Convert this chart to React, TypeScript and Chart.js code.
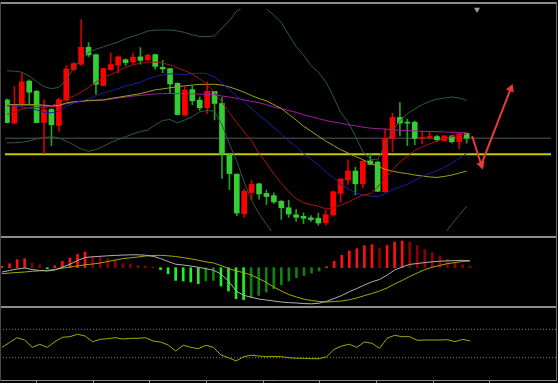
import React, { useEffect, useRef } from "react";
import { Chart, registerables } from "chart.js";

Chart.register(...registerables);

// ---------------- DATA ----------------
// main panel (price units), one entry per candle
const open = [137,112.7,132.7,156.7,146,113.3,127,110.3,136.7,168.7,174.3,192,184.3,152,168.7,173.3,179,176.7,182,178.7,184.3,171,169.7,154.3,121,147.7,136.7,128.7,146,133.3,80.3,59.3,18,40.3,49.3,39.3,37,31,24.3,17,15.3,13.7,13.3,8.7,16.7,39.3,53.5,62.7,49.3,73.3,72,41,96.7,118.7,113.7,113.7,96.7,97.7,98.7,94.3,99.3,93.3,102];
const high = [138,151,165,158,147,137,128,139,173,176,221,197,185,170,186,183,180,186,191.7,185,185,178.3,170,155,151,151.7,140,156,146,139.3,80.3,60,44,52.7,50,42.7,40,32,32,22.7,19,16,18.7,22,42,55,74.3,66.7,73.5,81,73,106.7,123.3,134.3,117,115,104.3,103.3,100,100,100,102,102.5];
const low = [113,112,130,133,113,81,89,104,136,168,173,182,143,152,168,165,173,174,174.3,178,169,165.3,144.3,121,121,132,126,122.7,116,55,43.3,16,14.3,32.7,33.3,27.7,28.7,12,14.3,10,7.7,10,6,6,16,30,48.7,37.7,45,69,41,40.5,82.7,99.3,89.3,90,91,96,93.3,94,92,86,91.7];
const close = [113.3,132,156,145,113.3,126.7,111,137.3,169.3,175,192,184,153.3,169.7,174,182,176,181.7,178.3,183.7,172,169.3,153.7,121.7,147.3,136,128.7,146,133.3,80.3,60,18.7,41.5,48.7,38.7,36,30.3,24.3,17.7,14.3,13.3,12,8.3,17,41,54.3,62.7,49.3,72.7,69.7,41.5,96.7,118.7,112.7,112.7,96.7,97.7,98.7,95.3,99.3,93.3,101.7,97];

const maFast = [122,124,127.5,129,129,128.5,131,134,138,141,145,150,155.5,160,163.5,167,171,173.5,175.5,176.5,176.5,175.5,173.5,170.5,167.5,164,159,153,145,134.5,124,113,103.5,94,81,71,59.5,50,41,34,29.5,27.5,26,23,24,27,30,34,37.5,39,46,55,64,72,78,84,88,91,94,96.5,98.5,100,101.5];
const maMid = [131,130.5,129.5,128.5,126.5,124,123.5,125,130.5,133.5,136,138,141.5,144.3,146.5,148.7,151.5,153.5,155.5,159,161.5,163,164.3,164,163.5,164.5,165,164.5,161,155,147.5,141,135,128,121,115,108,101.5,94,88,81,75,69,62,56,49,44,40,37.5,36.5,36,39,43,46,49,53,57,60,63,66.5,71,76,81];
const maSlow = [132,132,132,132,132,131.5,131,131,134,135,135.7,136.5,136.7,137,138.5,139.7,141,142.3,143.5,145.5,147.5,148.5,149.7,150.7,151.7,152.5,153.2,153.3,153.3,152.5,150.5,148,145,141.5,138.5,136,132,128,122,116,109.5,104.5,99,94,89.5,85,81.5,78,74.5,71,67.5,64.5,62.5,61,60,58.5,57.5,56.5,56,57,58.5,60.5,62.7];
const maLong = [132,132,131.7,131.5,131,130.5,130,131,133,134.3,135.3,136,136.5,136.7,137.8,139,140,141,141.7,142.5,143.2,143.5,143.7,143.6,143.5,143.3,143,142.8,142.3,141,140,138.7,137,135.5,134,132,129.5,128,126,124,121.5,119.5,117.5,115.5,114,112.7,111,110,108.5,107.5,107,106.5,105.8,105.2,105,104.6,104.2,104,103.8,103.5,103.2,103,102.7];
const bollUpper = [167.5,167,166,162,156,151,148.7,150,158,170,180,186.5,190,192.5,195,197.5,201,203.5,206,209,210,210,210,209,207.5,205,203.3,203,204,212,220,230,234,235,234,232,225.5,218,205,193,184,173,166,156,141,124,114,99,83,75,74.3,90,105,115,122.5,127.5,132,135.5,137.7,139,140,139,136.7];
const bollLower = [92,92.3,92.7,94,96.3,97.7,98.7,97.3,94,90,85.7,83.3,85,88.5,92.5,95.5,98.5,101.5,104,105.5,111,115.5,116.5,113,116,119.5,124.5,126,125,111,91,73,51,32,18,7,-4,null,null,null,null,null,null,null,null,null,null,null,null,null,null,null,null,null,null,null,null,null,null,-3,7,16.5,26];

const levelGray = 97;
const levelYellow = 80.3;

const arrowIdx = [62.74, 63.97, 67.95];
const arrowPrice = [99.3, 69.3, 148.7];
const shiftMarkerIdx = 63.4;

// MACD panel
const macdLine = [-4.3,-2.8,-1.3,-0.3,-1.8,-2.8,-3.3,-2.3,0.7,3.4,7.2,10.2,10.9,11.4,11.9,12.3,12.6,12.9,12.9,12.5,11.4,9.2,6.2,3.5,2.7,1.7,0.4,-1,-2.5,-6.3,-13.3,-23.3,-27.6,-29.5,-31.3,-32.3,-33.3,-34.3,-34.9,-35.3,-35.9,-36.1,-35.5,-33.6,-30.8,-27.8,-24,-20.8,-17.3,-14.1,-11.8,-7.5,-2.3,0.7,3.3,4.2,5.1,5.9,6.5,6.9,7.1,7.4,6.7];
const signalLine = [-6,-5.3,-4.8,-4.3,-3.6,-3.1,-2.6,-1.8,-0.5,0.7,1.7,2.9,3.7,4.7,6.2,7.7,9,9.9,10.7,11.7,12.2,12.4,11.9,11.2,10.1,8.9,7.4,5.9,4.7,2.2,-0.8,-3.3,-4.8,-7.3,-10.8,-14.8,-19.3,-23.3,-26.8,-29.3,-31.5,-32.8,-33.8,-34.3,-33.8,-33.3,-32,-30.3,-27.9,-25.8,-23.3,-20.3,-16.3,-12.8,-8.8,-5.3,-2,0.5,2.3,4.1,5.2,6.2,7];
const macdHist = [1.5,4,8,9,4.5,3,-1,2,6.3,9.7,13.3,15.7,11.3,10.7,9,7.3,4,3.7,2.3,1.7,0.7,-2,-6,-12.7,-13.3,-14.3,-16,-13.3,-12.7,-18.3,-23.3,-31,-32,-30,-27.7,-24.3,-21,-17,-13.3,-10,-7.7,-5.3,-3.3,1,6.3,12.3,16.7,19,22,23,19.7,22.3,25.7,26.7,25.7,22.3,18.3,15,11.7,8.3,5,3,1.7];

// RSI panel
const rsi = [44.6,51.4,58.2,54.9,44.6,48.9,44.6,52.5,58.7,59.6,63,60.6,52.5,55.9,56.8,58.2,56.3,57.3,57.3,58.2,53.5,52.1,47.9,39.4,47.5,44.6,42.7,47.5,44.6,33.8,30,25.4,31.4,33.4,32.4,31.4,31.7,31.4,30,29.2,29.2,28.6,28.6,31.4,41.8,46.5,48.9,44.6,52.1,50.3,43.2,57.3,61.5,59.6,59.6,54.5,54.9,54.9,54.9,55.4,52.5,55.9,53.5];
const rsiLevels = [70, 30];

// time-axis tick positions (in candle index units)
const timeTicks = [4.6, 12.1, 19.6, 27.1, 34.6, 42.1, 49.6, 57.1, 64.6];

// ---------------- LAYOUT / STYLE ----------------
const W = 556;
const X_MIN = -0.265;
const X_MAX = 73.38;

const pts = (arr: (number | null)[]) => arr.map((v, i) => ({ x: i, y: v }));

const lineDs = (arr: (number | null)[], color: string, order: number, width = 1) => ({
  type: "line" as const,
  data: pts(arr),
  borderColor: color,
  borderWidth: width,
  pointRadius: 0,
  tension: 0,
  fill: false,
  spanGaps: false,
  order,
});

const hLine = (v: number, color: string, width: number, order: number, dash: number[] = []) => ({
  type: "line" as const,
  data: [
    { x: X_MIN, y: v },
    { x: X_MAX, y: v },
  ],
  borderColor: color,
  borderWidth: width,
  borderDash: dash,
  pointRadius: 0,
  tension: 0,
  fill: false,
  order,
});

const baseOptions = (yMin: number, yMax: number): any => ({
  animation: false,
  responsive: false,
  devicePixelRatio: 1,
  events: [],
  layout: { padding: 0 },
  plugins: { legend: { display: false }, tooltip: { enabled: false } },
  scales: {
    x: { type: "linear", min: X_MIN, max: X_MAX, display: false, offset: false },
    y: { type: "linear", min: yMin, max: yMax, display: false },
  },
});

function mainConfig(): any {
  const idx = open.map((_, i) => i);
  const up = idx.map((i) => close[i] >= open[i]);
  return {
    type: "bar",
    data: {
      datasets: [
        hLine(levelGray, "#575757", 1, 40),
        hLine(levelYellow, "#c8c800", 2, 39),
        {
          type: "bar",
          data: idx.map((i) => ({ x: i, y: [low[i], high[i]] })),
          backgroundColor: up.map((u) => (u ? "#d00000" : "#21a321")),
          barThickness: 1,
          maxBarThickness: 1,
          grouped: false,
          order: 30,
        },
        {
          type: "bar",
          data: idx.map((i) => ({ x: i, y: [Math.min(open[i], close[i]), Math.max(open[i], close[i])] })),
          backgroundColor: up.map((u) => (u ? "#ff0000" : "#34cd34")),
          barThickness: 5,
          maxBarThickness: 5,
          minBarLength: 1,
          grouped: false,
          order: 29,
        },
        lineDs(bollUpper, "#2b5c42", 8),
        lineDs(bollLower, "#2b5c42", 8),
        lineDs(maLong, "#a01ea0", 7),
        lineDs(maSlow, "#a0a01e", 6),
        lineDs(maMid, "#1e1ea0", 5),
        lineDs(maFast, "#a81414", 4),
        {
          type: "line",
          data: arrowIdx.map((x, j) => ({ x, y: arrowPrice[j] })),
          borderColor: "#e83a3a",
          borderWidth: 2,
          tension: 0,
          fill: false,
          pointStyle: "triangle",
          pointRadius: (c: any) => (c.dataIndex === 0 ? 0 : 5),
          pointBackgroundColor: "#e83a3a",
          pointBorderColor: "#e83a3a",
          pointBorderWidth: 0,
          pointRotation: (c: any) => {
            const j = c.dataIndex;
            if (j === 0) return 0;
            const sx = c.chart.scales.x;
            const sy = c.chart.scales.y;
            const dx = sx.getPixelForValue(arrowIdx[j]) - sx.getPixelForValue(arrowIdx[j - 1]);
            const dy = sy.getPixelForValue(arrowPrice[j]) - sy.getPixelForValue(arrowPrice[j - 1]);
            return (Math.atan2(dx, -dy) * 180) / Math.PI;
          },
          clip: false,
          order: 1,
        },
        {
          type: "line",
          data: [{ x: shiftMarkerIdx, y: 231.5 }],
          showLine: false,
          pointStyle: "triangle",
          pointRotation: 180,
          pointRadius: 3.5,
          pointBackgroundColor: "#9a9a9a",
          pointBorderWidth: 0,
          clip: false,
          order: 0,
        },
      ],
    },
    options: baseOptions(0, 232),
  };
}

function macdConfig(): any {
  const colors = macdHist.map((v, i) => {
    const prev = i > 0 ? macdHist[i - 1] : v;
    if (v >= 0) return v >= prev ? "#ff1010" : "#8a0000";
    return v <= prev ? "#22f022" : "#0f820f";
  });
  return {
    type: "bar",
    data: {
      datasets: [
        {
          type: "bar",
          data: pts(macdHist),
          backgroundColor: colors,
          barThickness: 2,
          maxBarThickness: 2,
          grouped: false,
          order: 10,
        },
        lineDs(signalLine, "#a8a800", 2),
        lineDs(macdLine, "#b0b0b0", 1),
      ],
    },
    options: baseOptions(-38.3, 29.7),
  };
}

function rsiConfig(): any {
  const opts = baseOptions(-1.41, 100);
  opts.scales.x = {
    type: "linear",
    min: X_MIN,
    max: X_MAX,
    display: true,
    position: "bottom",
    offset: false,
    afterBuildTicks: (s: any) => {
      s.ticks = timeTicks.map((v) => ({ value: v }));
    },
    ticks: { display: false },
    grid: { drawOnChartArea: false, drawTicks: true, tickLength: 3, color: "#8c8c8c", lineWidth: 1 },
    border: { display: true, color: "#8c8c8c", width: 1 },
  };
  return {
    type: "line",
    data: {
      datasets: [
        ...rsiLevels.map((v) => hLine(v, "#7c7c7c", 1, 5, [1, 2])),
        lineDs(rsi, "#a8a800", 1),
      ],
    },
    options: opts,
  };
}

function Panel({ top, height, make }: { top: number; height: number; make: () => any }) {
  const ref = useRef<HTMLCanvasElement>(null);
  useEffect(() => {
    const chart = new Chart(ref.current as HTMLCanvasElement, make());
    return () => chart.destroy();
  }, []);
  return (
    <canvas
      ref={ref}
      width={W}
      height={height}
      style={{ position: "absolute", left: 0, top, width: W, height, display: "block" }}
    />
  );
}

const bar = (left: number, top: number, width: number, height: number, color: string) => (
  <div style={{ position: "absolute", left, top, width, height, background: color }} />
);

export default function App() {
  useEffect(() => {
    document.body.style.background = "#000";
  }, []);
  return (
    <div
      style={{
        position: "fixed",
        left: 0,
        top: 0,
        width: 558,
        height: 383,
        background: "#000",
        overflow: "hidden",
      }}
    >
      <Panel top={4} height={232} make={mainConfig} />
      <Panel top={238} height={68} make={macdConfig} />
      <Panel top={308} height={75} make={rsiConfig} />
      {bar(0, 2, 557, 2, "#8c8c8c")}
      {bar(0, 236, 557, 2, "#8c8c8c")}
      {bar(0, 306, 557, 2, "#8c8c8c")}
      {bar(0, 2, 1, 379, "#4a4a4a")}
      {bar(556, 2, 1, 379, "#6a6a6a")}
    </div>
  );
}
